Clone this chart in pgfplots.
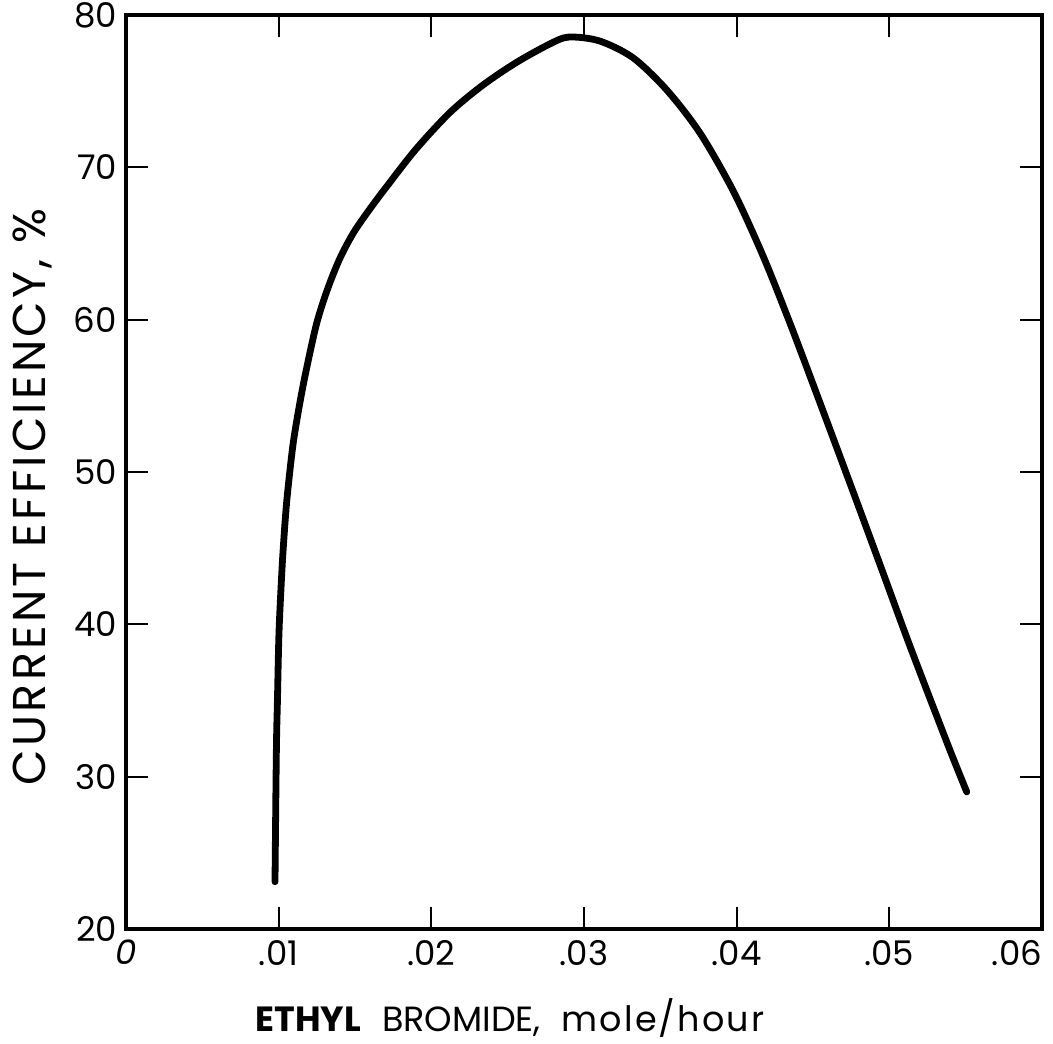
\documentclass[border=0pt]{standalone}
\usepackage{pgfplots}
\pgfplotsset{compat=1.18}
\usepackage{fontspec}
\setmainfont{Poppins}
\usetikzlibrary{calc}
\begin{document}
\begin{tikzpicture}
\begin{axis}[
  scale only axis, width=458pt, height=457pt,
  xmin=0, xmax=0.06, ymin=20, ymax=80,
  xtick={0,0.01,0.02,0.03,0.04,0.05,0.06},
  xticklabels={\textit{0},.01,.02,.03,.04,.05,\makebox[0pt][r]{.06}},
  scaled x ticks=false,
  ytick={20,30,40,50,60,70,80},
  tick align=inside, major tick length=11pt,
  tick style={line width=1pt, black},
  axis line style={line width=1.8pt},
  tick label style={font=\fontsize{17}{17}\selectfont},
  xticklabel style={yshift=-2pt},
  yticklabel style={xshift=-1pt},
  /pgf/number format/assume math mode=true,
  clip=false,
]
\addplot[black, line width=3.4pt, smooth, tension=0.5, line cap=round, line join=round] coordinates {
(0.00976,23.1)
(0.00985,31.7)
(0.00992,35.0)
(0.01002,39.4)
(0.01018,42.9)
(0.01032,45.3)
(0.01054,48.2)
(0.01094,51.8)
(0.01140,54.6)
(0.01185,56.9)
(0.01250,59.8)
(0.01320,62.0)
(0.01400,64.0)
(0.01490,65.7)
(0.01600,67.3)
(0.01720,68.9)
(0.01900,71.2)
(0.02122,73.6)
(0.02338,75.4)
(0.0256,76.9)
(0.02777,78.1)
(0.0290,78.55)
(0.0310,78.3)
(0.0332,77.2)
(0.0354,75.1)
(0.0376,72.25)
(0.0398,68.4)
(0.04172,64.2)
(0.04348,59.8)
(0.04525,55.1)
(0.04774,48.4)
(0.04958,43.4)
(0.05134,38.6)
(0.05383,32.1)
(0.05507,29.0)
};
\coordinate (A) at (rel axis cs:0,0);
\coordinate (B) at (rel axis cs:1,1);
\end{axis}
\node[anchor=base, font=\fontsize{17.5}{17.5}\selectfont] at ($(A)+(192pt,-51.5pt)$) {\bfseries ETHYL\hspace{0.6em}\mdseries BROMIDE,\hspace{0.6em}{\addfontfeature{LetterSpace=6}mole/hour}};
\node[rotate=90, font=\fontsize{23}{23}\selectfont\addfontfeature{LetterSpace=7}] at ($(A)+(-47pt,216pt)$) {CURRENT EFFICIENCY, \%};
\pgfresetboundingbox
\path ($(A)+(-63pt,-57.5pt)$) rectangle ($(B)+(5.5pt,7.5pt)$);
\end{tikzpicture}
\end{document}
